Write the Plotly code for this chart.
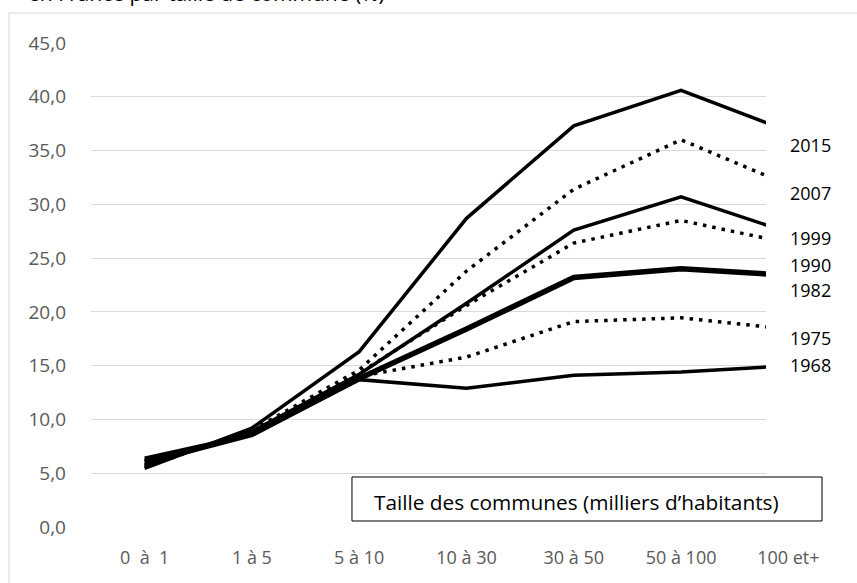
import plotly.graph_objects as go

categories = ["0  à  1", "1 à 5", "5 à 10", "10 à 30", "30 à 50", "50 à 100", "100 et+"]
years = ["1968", "1975", "1982", "1990", "1999", "2007", "2015"]
v1968 = [6.4, 8.6, 13.7, 12.9, 14.1, 14.4, 15.0]
v1975 = [6.2, 8.7, 14.0, 15.8, 19.1, 19.45, 18.4]
v1982 = [6.0, 8.6, 13.8, 18.4, 23.2, 24.0, 23.4]
v1990 = [5.8, 8.8, 14.3, 20.6, 26.4, 28.5, 26.4]
v1999 = [5.7, 8.9, 14.2, 20.8, 27.6, 30.7, 27.4]
v2007 = [5.55, 9.0, 14.6, 23.8, 31.4, 36.0, 31.8]
v2015 = [5.45, 9.2, 16.3, 28.7, 37.3, 40.6, 36.8]
series = [v1968, v1975, v1982, v1990, v1999, v2007, v2015]
dashes = ["solid", "dot", "solid", "dot", "solid", "dot", "solid"]
widths = [3.5, 3.5, 5.5, 3.5, 3.5, 3.5, 3.5]
# vertical placement of the year labels (in value units)
label_y = [15.05, 17.6, 22.0, 24.35, 26.9, 31.1, 35.5]
yticks = [0, 5, 10, 15, 20, 25, 30, 35, 40, 45]
ytick_text = ["0,0", "5,0", "10,0", "15,0", "20,0", "25,0", "30,0", "35,0", "40,0", "45,0"]

FONT = "Open Sans"
fig = go.Figure()
for yr, vals, d, w in zip(years, series, dashes, widths):
    fig.add_trace(go.Scatter(
        x=categories, y=vals, mode="lines", name=yr,
        line=dict(color="black", width=w, dash=("3.5px,6px" if d == "dot" else "solid")),
        showlegend=False, hoverinfo="skip"))

W, H = 857, 583
L, R, T, B = 91, 15, 43, 56

shapes = [
    # outer chart border (cropped)
    dict(type="rect", xref="paper", yref="paper", x0=-0.1092, x1=1.2, y0=-0.3, y1=1.062,
         line=dict(color="#D9D9D9", width=1), fillcolor="rgba(0,0,0,0)", layer="below"),
    # white label panel on the right
    dict(type="rect", xref="paper", yref="paper", x0=0.8988, x1=1.1, y0=0.105, y1=0.9855,
         line=dict(width=0), fillcolor="white", layer="above"),
    # axis title box
    dict(type="rect", xref="paper", yref="paper", x0=0.3475, x1=0.9734, y0=0.0124, y1=0.1033,
         line=dict(color="black", width=1), fillcolor="white", layer="above"),
]

annotations = [
    dict(text="Taille des communes (milliers d\u2019habitants)", xref="paper", yref="paper",
         x=0.3742, y=0.0517, xanchor="left", yanchor="middle", showarrow=False,
         font=dict(family=FONT, size=20.8, color="black")),
    dict(text="en France par taille de commune (%)", xref="paper", yref="paper",
         x=-0.087, y=1.071, xanchor="left", yanchor="bottom", showarrow=False,
         font=dict(family=FONT, size=21, color="black")),
]
for yr, ly in zip(years, label_y):
    annotations.append(dict(text=yr, xref="paper", yref="y", x=0.928, y=ly,
                            xanchor="left", yanchor="middle", showarrow=False,
                            font=dict(family=FONT, size=18, color="black")))

fig.update_layout(
    width=W, height=H,
    margin=dict(l=L, r=R, t=T, b=B, pad=0),
    paper_bgcolor="white", plot_bgcolor="white",
    font=dict(family=FONT, size=18, color="#595959"),
    xaxis=dict(type="category", range=[-0.5, 6.5], showgrid=False, showline=False,
               ticks="", ticklabelstandoff=18, tickfont=dict(size=18, color="#595959"),
               fixedrange=True),
    yaxis=dict(range=[0, 45], tickvals=yticks, ticktext=ytick_text, showgrid=True,
               gridcolor="#D9D9D9", gridwidth=1, zeroline=False, showline=False,
               ticks="", ticklabelstandoff=24, tickfont=dict(size=19, color="#595959"),
               fixedrange=True),
    shapes=shapes, annotations=annotations,
)

fig.write_html("out.html")
